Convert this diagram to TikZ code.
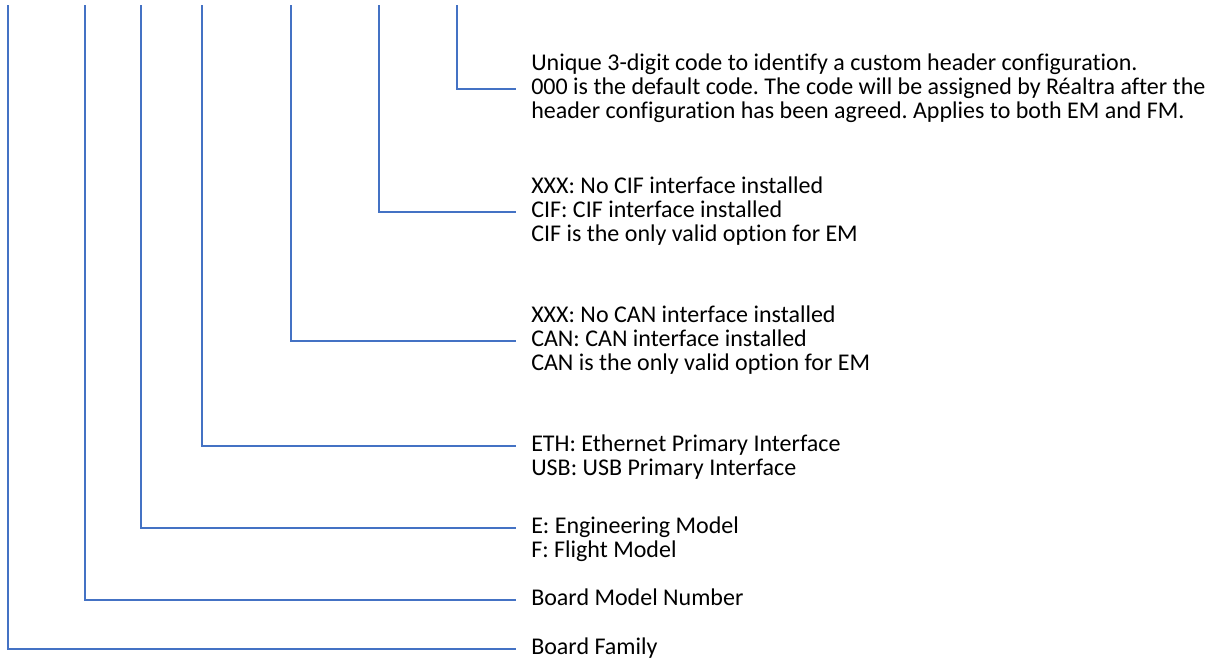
\documentclass[tikz,border=0pt]{standalone}
\usepackage{fontspec}
\setmainfont{Carlito}[Ligatures=NoCommon]
\definecolor{lineblue}{HTML}{4472C4}
\begin{document}
\frenchspacing
\begin{tikzpicture}[x=0.75pt,y=-0.75pt,
  lbl/.style={anchor=west,inner sep=0pt,font=\fontsize{18}{18}\selectfont,text height=0.8em,text depth=0.05em,text=black},
  conn/.style={draw=lineblue,line width=1.1pt,shorten >=11.25pt}]
\useasboundingbox (0,0) rectangle (1221,668);
% texts
\node[lbl] (h1) at (531,65) {Unique 3-digit code to identify a custom header configuration.};
\node[lbl] (h2) at (531,89) {000 is the default code. The code will be assigned by Réaltra after the};
\node[lbl] (h3) at (531,113) {header configuration has been agreed. Applies to both EM and FM.};
\node[lbl] (c1) at (531,188) {XXX: No CIF interface installed};
\node[lbl] (c2) at (531,212) {CIF: CIF interface installed};
\node[lbl] (c3) at (531,236) {CIF is the only valid option for EM};
\node[lbl] (n1) at (531,317) {XXX: No CAN interface installed};
\node[lbl] (n2) at (531,341) {CAN: CAN interface installed};
\node[lbl] (n3) at (531,365) {CAN is the only valid option for EM};
\node[lbl] (e1) at (531,446) {ETH: Ethernet Primary Interface};
\node[lbl] (e2) at (531,470) {USB: USB Primary Interface};
\node[lbl] (m1) at (531,528) {E: Engineering Model};
\node[lbl] (m2) at (531,552) {F: Flight Model};
\node[lbl] (bm) at (531,600) {Board Model Number};
\node[lbl] (bf) at (531,649) {Board Family};
% tops of connectors
\coordinate (t1) at (8,5);
\coordinate (t2) at (85,5);
\coordinate (t3) at (141,5);
\coordinate (t4) at (202,5);
\coordinate (t5) at (291,5);
\coordinate (t6) at (379,5);
\coordinate (t7) at (457,5);
% connectors
\draw[conn] (t1) |- (bf.west);
\draw[conn] (t2) |- (bm.west);
\draw[conn] (t3) |- (m1.west);
\draw[conn] (t4) |- (e1.west);
\draw[conn] (t5) |- (n2.west);
\draw[conn] (t6) |- (c2.west);
\draw[conn] (t7) |- (h2.west);
\end{tikzpicture}
\end{document}
